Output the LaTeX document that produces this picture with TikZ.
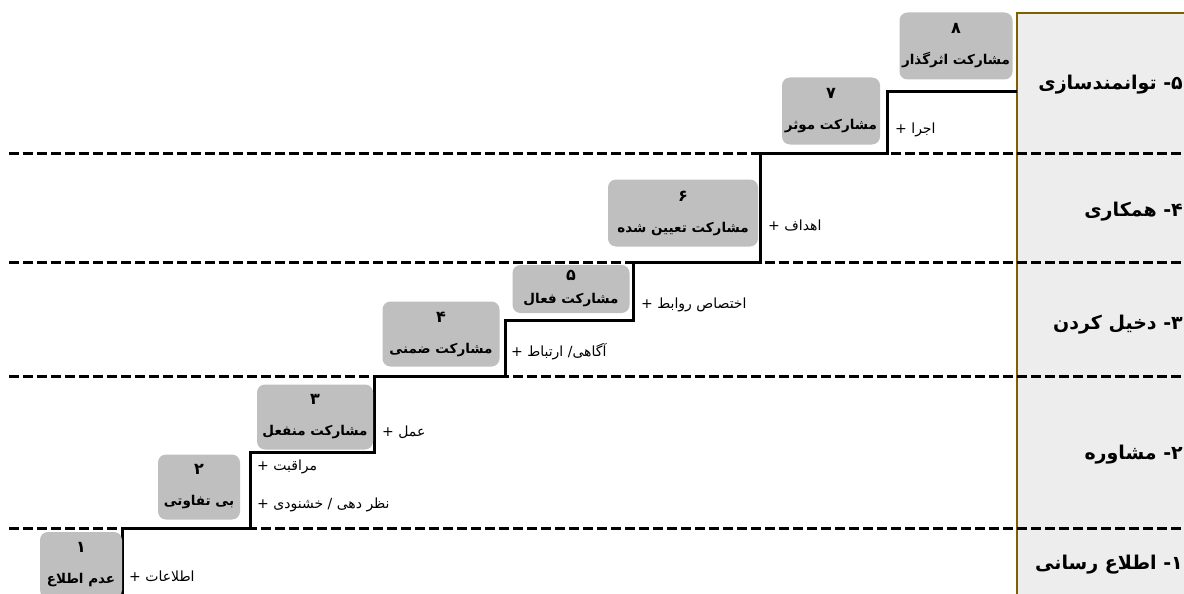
\documentclass[tikz,border=0pt]{standalone}
\usepackage{fontspec}
\usetikzlibrary{positioning}
\TeXXeTstate=1
\newfontfamily\farsifont[Script=Arabic]{DejaVu Sans}
\newcommand{\rl}[1]{\beginR #1\endR}
\newcommand{\stagenum}[1]{{\fontsize{16}{30}\selectfont\beginR #1\endR}}
\definecolor{stepgray}{HTML}{BFBFBF}
\definecolor{panelfill}{HTML}{EDEDED}
\definecolor{panelline}{HTML}{7F6000}
\tikzset{
  stage/.style={fill=stepgray, rounded corners=8pt, align=center, inner sep=1pt,
    font=\farsifont\bfseries\fontsize{13.5}{31}\selectfont},
  gain/.style={anchor=west, inner sep=1pt, font=\farsifont\fontsize{14}{16}\selectfont},
  level/.style={anchor=east, inner sep=0pt, font=\farsifont\bfseries\fontsize{19}{21}\selectfont},
  divider/.style={dash pattern=on 10pt off 4pt, line width=3pt},
  stair/.style={line width=3pt, line join=miter},
}

\begin{document}
\begin{tikzpicture}[x=1pt,y=-1pt]
        \useasboundingbox (0,0) rectangle (1184,594);
        \draw[fill=panelfill, draw=panelline, line width=2pt] (1017,13) rectangle (1220,630);
        \foreach \y in {153,262,376,528}
            \draw[divider] (9,\y) -- (1190,\y);

        \coordinate (s0) at (122,600);
        \coordinate (s1) at (122,528);
        \coordinate (s2) at (250,528);
        \coordinate (s3) at (250,452);
        \coordinate (s4) at (374,452);
        \coordinate (s5) at (374,376);
        \coordinate (s6) at (505,376);
        \coordinate (s7) at (505,320);
        \coordinate (s8) at (633,320);
        \coordinate (s9) at (633,262);
        \coordinate (s10) at (760,262);
        \coordinate (s11) at (760,153);
        \coordinate (s12) at (887,153);
        \coordinate (s13) at (887,92);
        \coordinate (s14) at (1017,92);
        \draw[stair] (s0) -- (s1) -- (s2) -- (s3) -- (s4) -- (s5) -- (s6) -- (s7)
            -- (s8) -- (s9) -- (s10) -- (s11) -- (s12) -- (s13) -- (s14);

        \node[stage, minimum width=82pt, minimum height=66pt] (unaware) at (81,565) {\stagenum{۱}\\\rl{عدم اطلاع}};
        \node[stage, minimum width=82pt, minimum height=65pt] (indifferent) at (199,487) {\stagenum{۲}\\\rl{بی تفاوتی}};
        \node[stage, minimum width=116pt, minimum height=65pt] (passive) at (315,417) {\stagenum{۳}\\\rl{مشارکت منفعل}};
        \node[stage, minimum width=117pt, minimum height=65pt] (implicit) at (441,334) {\stagenum{۴}\\\rl{مشارکت ضمنی}};
        \node[stage, minimum width=117pt, minimum height=48pt] (active) at (571,289) {\stagenum{۵}\\[-8pt]\rl{مشارکت فعال}};
        \node[stage, minimum width=150pt, minimum height=67pt] (defined) at (683,213) {\stagenum{۶}\\\rl{مشارکت تعیین شده}};
        \node[stage, minimum width=98pt, minimum height=67pt] (effective) at (831,111) {\stagenum{۷}\\\rl{مشارکت موثر}};
        \node[stage, minimum width=113pt, minimum height=67pt] (impactful) at (956,46) {\stagenum{۸}\\\rl{مشارکت اثرگذار}};

        \node[gain] (info) at (128,576) {\rl{اطلاعات +}};
        \node[gain] (care) at (256,467) {\rl{مراقبت +}};
        \node[gain] (opinion) at (256,505) {\rl{نظر دهی / خشنودی +}};
        \node[gain] (action) at (381,432) {\rl{عمل +}};
        \node[gain] (aware) at (510,352) {\rl{آگاهی\kern0pt/ ارتباط +}};
        \node[gain] (links) at (640,305) {\rl{اختصاص روابط +}};
        \node[gain] (goals) at (767,225) {\rl{اهداف +}};
        \node[gain] (run) at (894,130) {\rl{اجرا +}};

        \node[level] (empower) at (1183,85) {\rl{۵\kern0pt- توانمندسازی}};
        \node[level] (collab) at (1183,212) {\rl{۴\kern0pt- همکاری}};
        \node[level] (involve) at (1183,325) {\rl{۳\kern0pt- دخیل کردن}};
        \node[level] (consult) at (1183,455) {\rl{۲\kern0pt- مشاوره}};
        \node[level] (inform) at (1183,565) {\rl{۱\kern0pt- اطلاع رسانی}};
    \end{tikzpicture}
\end{document}
